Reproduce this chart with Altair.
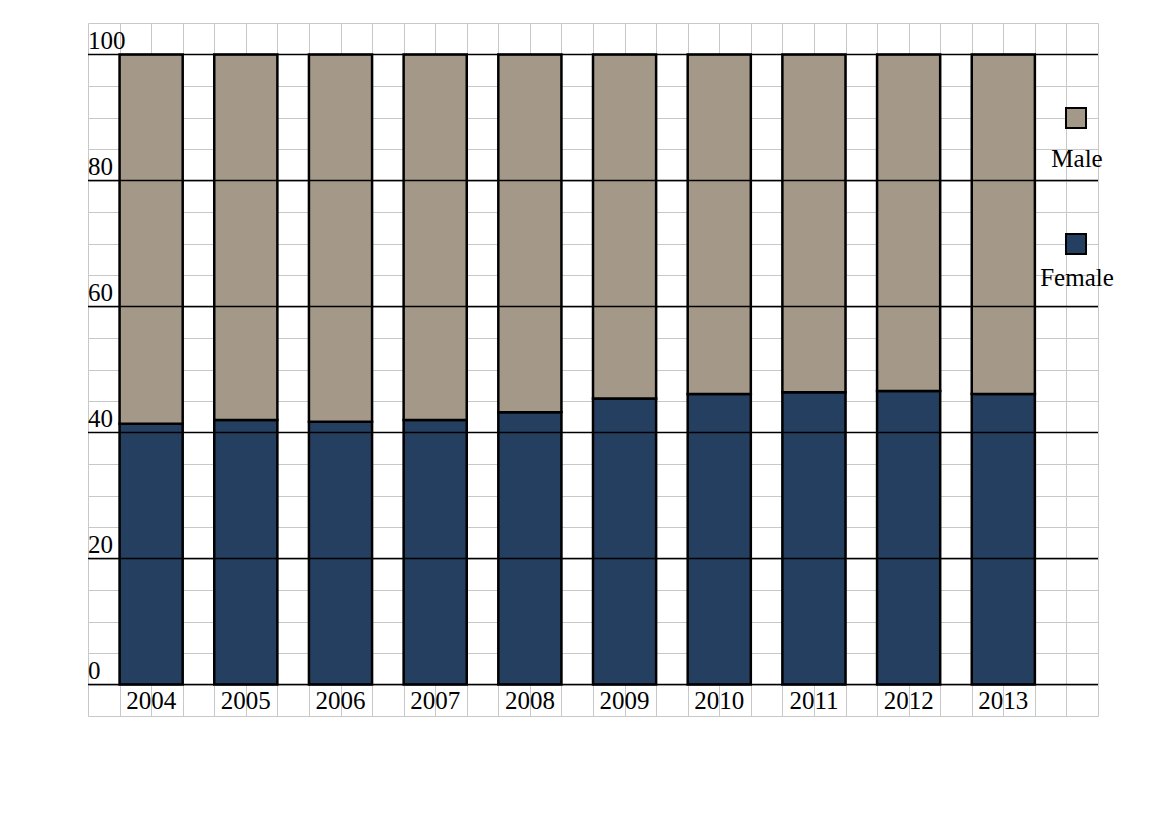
import altair as alt
import pandas as pd

years = [2004, 2005, 2006, 2007, 2008, 2009, 2010, 2011, 2012, 2013]
female = [41.4, 42.0, 41.7, 42.0, 43.2, 45.4, 46.1, 46.4, 46.6, 46.1]
male = [58.6, 58.0, 58.3, 58.0, 56.8, 54.6, 53.9, 53.6, 53.4, 53.9]
y_ticks = [0, 20, 40, 60, 80, 100]

FEMALE_C = "#243f60"
MALE_C = "#a49888"
GRID_C = "#c8c8c8"
FONT = "Liberation Serif"

df = pd.DataFrame({"year": years, "female": female, "male": male})
df["total"] = df["female"] + df["male"]
df["zero"] = 0
ticks_df = pd.DataFrame({"v": y_ticks})

xs = alt.Scale(domain=[0, 32], nice=False, zero=False)
ys = alt.Scale(domain=[-5, 105], nice=False, zero=False)

xax = alt.Axis(values=list(range(0, 33)), grid=True, gridColor=GRID_C, gridWidth=1,
               labels=False, ticks=False, domain=False, title=None)
yax = alt.Axis(values=list(range(-5, 106, 5)), grid=True, gridColor=GRID_C, gridWidth=1,
               labels=False, ticks=False, domain=False, title=None)

base = alt.Chart(df).transform_calculate(
    x0="1 + 3 * (datum.year - 2004)",
    x1="3 + 3 * (datum.year - 2004)",
    xc="2 + 3 * (datum.year - 2004)",
)

fem_bars = base.mark_rect(fill=FEMALE_C, stroke="black", strokeWidth=2.5).encode(
    x=alt.X("x0:Q", scale=xs, axis=xax),
    x2="x1:Q",
    y=alt.Y("zero:Q", scale=ys, axis=yax),
    y2="female:Q",
)

male_bars = base.mark_rect(fill=MALE_C, stroke="black", strokeWidth=2.5).encode(
    x=alt.X("x0:Q", scale=xs, axis=xax),
    x2="x1:Q",
    y=alt.Y("female:Q", scale=ys, axis=yax),
    y2="total:Q",
)

rules = alt.Chart(ticks_df).mark_rule(color="black", strokeWidth=1.5).encode(
    y=alt.Y("v:Q", scale=ys, axis=yax),
    x=alt.value(0),
    x2=alt.value(1010),
)

ylabels = alt.Chart(ticks_df).mark_text(
    font=FONT, fontSize=25, align="left", baseline="bottom", dy=-1, color="black"
).encode(
    y=alt.Y("v:Q", scale=ys, axis=yax),
    x=alt.value(0),
    text=alt.Text("v:Q"),
)

xlabels = base.mark_text(font=FONT, fontSize=25, align="center", baseline="middle", color="black").encode(
    x=alt.X("xc:Q", scale=xs, axis=xax),
    y=alt.Y("lab_y:Q", scale=ys, axis=yax),
    text=alt.Text("year:N"),
).transform_calculate(lab_y="-2.6")

leg_df = pd.DataFrame({"k": [0]})
leg_male_sq = alt.Chart(leg_df).mark_square(size=400, fill=MALE_C, stroke="black", strokeWidth=2, opacity=1).encode(
    x=alt.value(988), y=alt.value(95))
leg_fem_sq = alt.Chart(leg_df).mark_square(size=400, fill=FEMALE_C, stroke="black", strokeWidth=2, opacity=1).encode(
    x=alt.value(988), y=alt.value(221))
leg_male_tx = alt.Chart(leg_df).mark_text(font=FONT, fontSize=25, align="center", baseline="alphabetic",
                                          text="Male", color="black").encode(x=alt.value(989), y=alt.value(144))
leg_fem_tx = alt.Chart(leg_df).mark_text(font=FONT, fontSize=25, align="center", baseline="alphabetic",
                                         text="Female", color="black").encode(x=alt.value(989), y=alt.value(263))

chart = alt.layer(
    fem_bars, male_bars, rules, ylabels, xlabels,
    leg_male_sq, leg_fem_sq, leg_male_tx, leg_fem_tx,
).properties(
    width=1010, height=693,
    autosize=alt.AutoSizeParams(type="none"),
    padding={"left": 88, "top": 23, "right": 53, "bottom": 108},
    background="white",
).configure_view(stroke=None)

chart.save("out.html", embed_options={"renderer": "svg", "actions": False})
